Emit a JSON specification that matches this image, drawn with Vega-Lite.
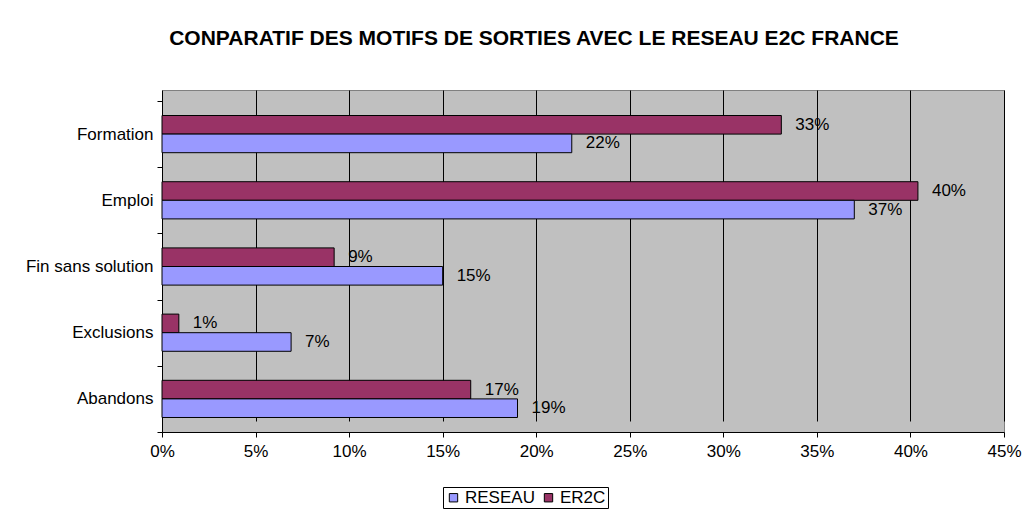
{
  "$schema": "https://vega.github.io/schema/vega-lite/v6.json",
  "autosize": "none",
  "width": 842,
  "height": 342,
  "padding": {"left": 162, "top": 90, "right": 29, "bottom": 82},
  "background": "white",
  "title": {
    "text": "CONPARATIF DES MOTIFS DE SORTIES AVEC LE RESEAU E2C FRANCE",
    "font": "Liberation Sans",
    "fontSize": 21,
    "fontWeight": "bold",
    "color": "black",
    "anchor": "middle",
    "dx": -49,
    "offset": 32
  },
  "data": {
    "values": [
      {"motif": "Formation", "serie": "ER2C", "valeur": 0.331},
      {"motif": "Formation", "serie": "RESEAU", "valeur": 0.219},
      {"motif": "Emploi", "serie": "ER2C", "valeur": 0.404},
      {"motif": "Emploi", "serie": "RESEAU", "valeur": 0.370},
      {"motif": "Fin sans solution", "serie": "ER2C", "valeur": 0.092},
      {"motif": "Fin sans solution", "serie": "RESEAU", "valeur": 0.150},
      {"motif": "Exclusions", "serie": "ER2C", "valeur": 0.009},
      {"motif": "Exclusions", "serie": "RESEAU", "valeur": 0.069},
      {"motif": "Abandons", "serie": "ER2C", "valeur": 0.165},
      {"motif": "Abandons", "serie": "RESEAU", "valeur": 0.190}
    ]
  },
  "encoding": {
    "y": {
      "field": "motif",
      "type": "nominal",
      "sort": ["Formation", "Emploi", "Fin sans solution", "Exclusions", "Abandons"],
      "scale": {"range": [11, 342], "paddingInner": 0, "paddingOuter": 0},
      "axis": {
        "title": null,
        "labelFont": "Liberation Sans",
        "labelFontSize": 17,
        "labelColor": "black",
        "domainColor": "black",
        "tickColor": "black",
        "tickSize": 5,
        "labelPadding": 4,
        "tickBand": "extent",
        "grid": false
      }
    },
    "yOffset": {
      "field": "serie",
      "type": "nominal",
      "sort": ["ER2C", "RESEAU"],
      "scale": {"paddingInner": 0, "paddingOuter": 0.78}
    },
    "x": {
      "field": "valeur",
      "type": "quantitative",
      "scale": {"domain": [0, 0.45], "nice": false},
      "axis": {
        "title": null,
        "format": ".0%",
        "values": [0, 0.05, 0.1, 0.15, 0.2, 0.25, 0.3, 0.35, 0.4, 0.45],
        "labelFlush": false,
        "labelFont": "Liberation Sans",
        "labelFontSize": 17,
        "labelColor": "black",
        "domainColor": "black",
        "tickColor": "black",
        "tickSize": 5,
        "labelPadding": 6,
        "grid": true,
        "gridColor": "black",
        "gridOpacity": 1,
        "gridWidth": 1
      }
    }
  },
  "layer": [
    {
      "mark": {"type": "bar", "stroke": "black", "strokeWidth": 1},
      "encoding": {
        "color": {
          "field": "serie",
          "type": "nominal",
          "scale": {"domain": ["RESEAU", "ER2C"], "range": ["#9999FF", "#993366"]},
          "legend": {
            "title": null,
            "orient": "none",
            "direction": "horizontal",
            "legendX": 281,
            "legendY": 397,
            "symbolType": "square",
            "symbolSize": 70,
            "symbolStrokeColor": "black",
            "symbolStrokeWidth": 1,
            "labelFont": "Liberation Sans",
            "labelFontSize": 17,
            "labelColor": "black",
            "labelOffset": 3,
            "columnPadding": 5,
            "strokeColor": "black",
            "fillColor": "white",
            "padding": 2
          }
        }
      }
    },
    {
      "mark": {"type": "text", "align": "left", "dx": 14, "font": "Liberation Sans", "fontSize": 17, "color": "black"},
      "encoding": {
        "text": {"field": "valeur", "type": "quantitative", "format": ".0%"}
      }
    }
  ],
  "config": {
    "view": {"fill": "#C0C0C0", "stroke": "#808080"}
  }
}
